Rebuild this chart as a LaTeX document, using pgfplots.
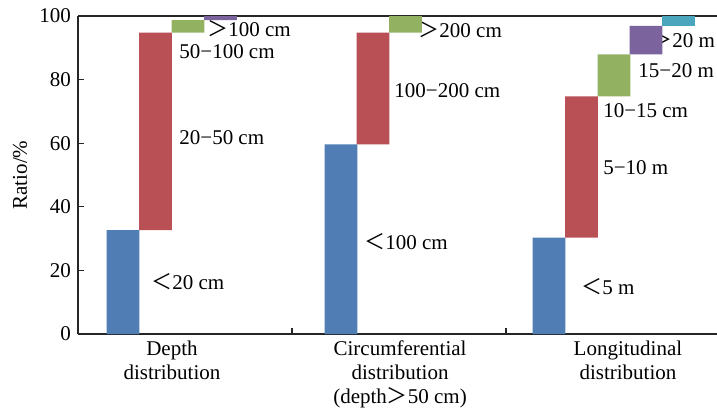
\documentclass[border=0pt]{standalone}
\usepackage{pgfplots}
\pgfplotsset{compat=1.18}
\usepackage{pgfplotstable}
\usepackage{fontspec}
\setmainfont{Liberation Serif}
\newfontfamily\cjk{Noto Sans CJK SC}
\definecolor{cblue}{RGB}{79,125,180}
\definecolor{cred}{RGB}{184,80,86}
\definecolor{cgreen}{RGB}{146,178,98}
\definecolor{cpurple}{RGB}{123,100,158}
\definecolor{ccyan}{RGB}{73,166,189}
\tikzset{lbl/.style={inner sep=0pt, anchor=west, font=\fontsize{10.5}{12}\selectfont}}
\pgfplotstableread{
x base blue red green purple cyan
0.2103 0 32.7 0 0 0 0
0.3621 32.7 0 62.1 0 0 0
0.5140 94.8 0 0 3.9 0 0
0.6659 98.7 0 0 0 1.3 0
1.2290 0 59.6 0 0 0 0
1.3785 59.6 0 35.2 0 0 0
1.5304 94.8 0 0 5.2 0 0
2.2009 0 30.3 0 0 0 0
2.3528 30.3 0 44.4 0 0 0
2.5047 74.7 0 0 13.2 0 0
2.6542 87.9 0 0 0 9.0 0
2.8061 96.9 0 0 0 0 3.1
}\datatable
\begin{document}
\begin{tikzpicture}
\begin{axis}[
  width=319.5pt, height=159pt, scale only axis,
  font=\fontsize{10.5}{12}\selectfont,
  xmin=0, xmax=2.986, ymin=0, ymax=100,
  axis x line*=box, axis y line*=left,
  axis line style={black!85, line width=0.8pt},
  ytick={0,20,40,60,80,100},
  ytick pos=left,
  major tick length=3pt,
  tick align=inside,
  tick style={black!85, line width=0.6pt},
  xtick={0.439,1.505,2.570},
  xticklabels={{Depth\\distribution},{Circumferential\\distribution\\(depth{\cjk ＞}50 cm)},{Longitudinal\\distribution}},
  xticklabel style={align=center, font=\fontsize{10.5}{12}\selectfont},
  xtick style={draw=none},
  extra x ticks={1,2},
  extra x tick labels={},
  extra x tick style={xtick style={draw=black!85}},
  xtick pos=lower,
  /pgf/number format/assume math mode=true,
  ylabel={Ratio/\%},
  ylabel style={at={(rel axis cs:0,0.5)}, anchor=center, rotate=0, yshift=29pt},
  ybar stacked, bar width=0.152,
  clip=false,
]
\addplot[fill=white, draw=none, fill opacity=0] table[x=x, y=base] {\datatable};
\addplot[fill=cblue, draw=none] table[x=x, y=blue] {\datatable};
\addplot[fill=cred, draw=none] table[x=x, y=red] {\datatable};
\addplot[fill=cgreen, draw=none] table[x=x, y=green] {\datatable};
\addplot[fill=cpurple, draw=none] table[x=x, y=purple] {\datatable};
\addplot[fill=ccyan, draw=none] table[x=x, y=cyan] {\datatable};
\coordinate (O) at (rel axis cs:0,0);
\node[lbl] at (axis cs:0.341,16.4) {{\cjk ＜}20 cm};
\node[lbl] at (axis cs:0.472,61.9) {20−50 cm};
\node[lbl] at (axis cs:0.472,88.7) {50−100 cm};
\node[lbl] at (axis cs:0.603,95.9) {{\cjk ＞}100 cm};
\node[lbl] at (axis cs:1.336,29.2) {{\cjk ＜}100 cm};
\node[lbl] at (axis cs:1.477,76.4) {100−200 cm};
\node[lbl] at (axis cs:1.589,95.6) {{\cjk ＞}200 cm};
\node[lbl] at (axis cs:2.350,14.8) {{\cjk ＜}5 m};
\node[lbl] at (axis cs:2.453,52.2) {5−10 m};
\node[lbl] at (axis cs:2.453,70.1) {10−15 cm};
\node[lbl] at (axis cs:2.617,82.7) {15−20 m};
\node[lbl] at (axis cs:2.678,92.5) {{\cjk ＞}20 m};
\end{axis}
\pgfresetboundingbox
\path (O) ++(-39pt,-40pt) rectangle ++(358.5pt,207pt);
\end{tikzpicture}
\end{document}
